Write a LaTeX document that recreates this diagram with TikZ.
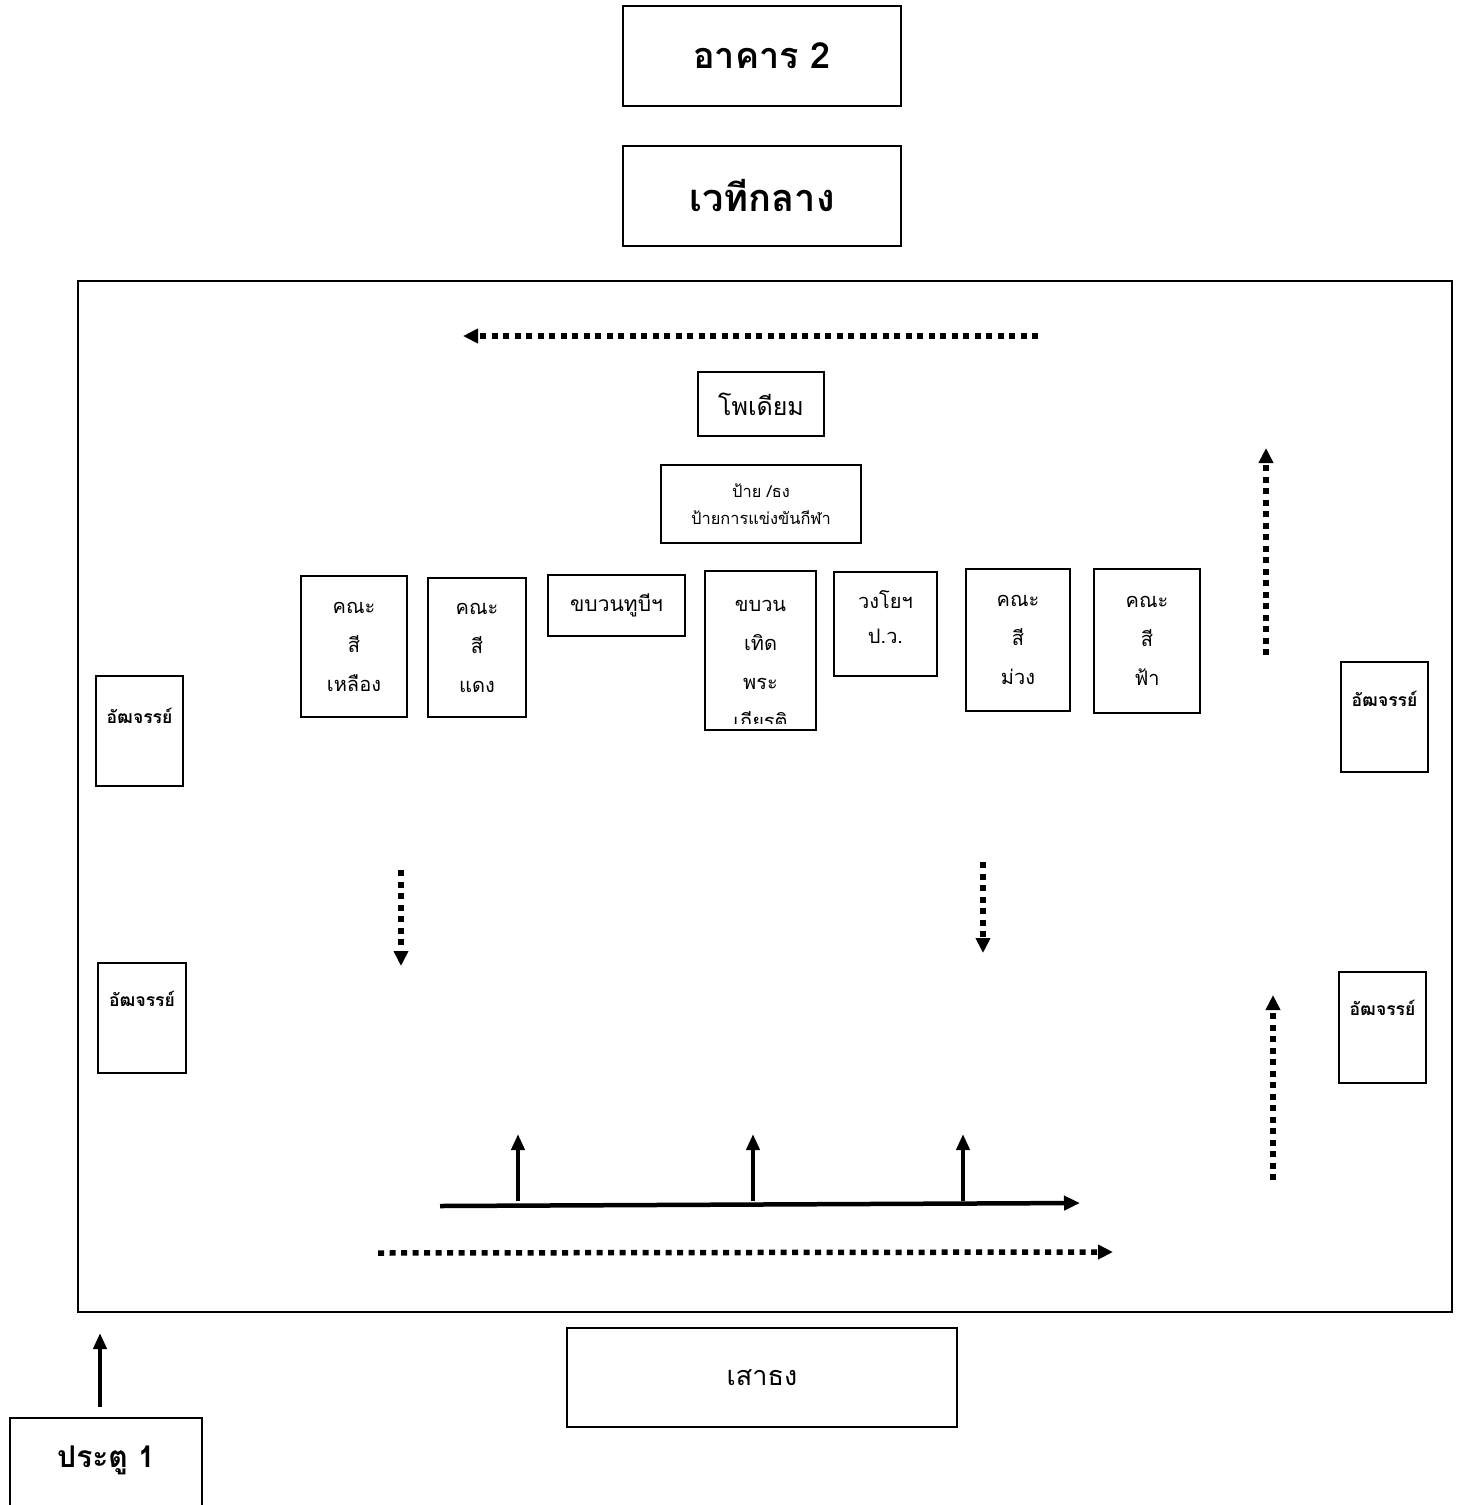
\documentclass[tikz,border=0pt]{standalone}
\usepackage{fontspec}
\setmainfont[Script=Thai]{Loma}
\usetikzlibrary{arrows.meta}
\begin{document}
\begin{tikzpicture}[
		x=1pt, y=-1pt,
		box/.style={draw, line width=1.6pt, inner sep=0pt, align=center},
		teamtxt/.style={font=\fontsize{20}{39}\selectfont, align=center},
		standtxt/.style={font=\fontsize{17.5}{20}\selectfont\bfseries},
		dotline/.style={line width=5.5pt, dash pattern=on 6pt off 5.5pt,
				-{Triangle[length=15pt,width=14pt]}},
		solidline/.style={line width=4.5pt, -{Triangle[length=16pt,width=14pt]}}
	]
	\useasboundingbox (0,0) rectangle (1461,1505);

	\node[box, minimum width=278pt, minimum height=100pt, font=\fontsize{36}{40}\selectfont\bfseries] (bldg) at (762,56) {อาคาร 2};
	\node[box, minimum width=278pt, minimum height=100pt, font=\fontsize{38}{42}\selectfont\bfseries] (stage) at (762,196) {เวทีกลาง};
	\draw[line width=1.6pt] (78,281) rectangle (1452,1312);

	\node[box, minimum width=126pt, minimum height=64pt, font=\fontsize{25}{28}\selectfont] (podium) at (761,404) {โพเดียม};
	\node[box, minimum width=200pt, minimum height=78pt, font=\fontsize{16.4}{27}\selectfont] (sign) at (761,504) {ป้าย /ธง\\ป้ายการแข่งขันกีฬา};

	\node[box, minimum width=106pt, minimum height=141pt, teamtxt] (yellow) at (354,646.5) {คณะ\\สี\\เหลือง};
	\node[box, minimum width=98pt, minimum height=139pt, teamtxt] (red) at (477,647.5) {คณะ\\สี\\แดง};
	\node[box, minimum width=137pt, minimum height=61pt, font=\fontsize{21}{24}\selectfont] (tobe) at (616.5,605.5) {ขบวนทูบีฯ};
	\node[box, minimum width=111pt, minimum height=159pt] (parade) at (760.5,650.5) {};
	\begin{scope}
		\clip ([yshift=7pt]parade.south west) rectangle (parade.north east);
		\node[teamtxt, anchor=north] (paradetxt) at ([yshift=-27pt]parade.north) {ขบวน\\เทิด\\พระ\\เกียรติ};
	\end{scope}
	\node[box, minimum width=103pt, minimum height=104pt] (band) at (885.5,624) {};
	\node[font=\fontsize{20}{35}\selectfont, align=center, anchor=north] (bandtxt) at ([yshift=-16pt]band.north) {วงโยฯ\\ป.ว.};
	\node[box, minimum width=104pt, minimum height=142pt, teamtxt] (purple) at (1018,640) {คณะ\\สี\\ม่วง};
	\node[box, minimum width=106pt, minimum height=144pt, teamtxt] (blue) at (1147,641) {คณะ\\สี\\ฟ้า};

	\node[box, minimum width=87pt, minimum height=110pt] (standL1) at (139.5,731) {};
	\node[standtxt] (standL1txt) at (139.5,716) {อัฒจรรย์};
	\node[box, minimum width=88pt, minimum height=110pt] (standL2) at (142,1018) {};
	\node[standtxt] (standL2txt) at (142,999) {อัฒจรรย์};
	\node[box, minimum width=87pt, minimum height=110pt] (standR1) at (1384.5,717) {};
	\node[standtxt] (standR1txt) at (1384.5,699) {อัฒจรรย์};
	\node[box, minimum width=87pt, minimum height=111pt] (standR2) at (1382.5,1027.5) {};
	\node[standtxt] (standR2txt) at (1382.5,1008) {อัฒจรรย์};

	\node[box, minimum width=390pt, minimum height=99pt, font=\fontsize{27}{32}\selectfont] (pole) at (762,1377.5) {เสาธง};
	\node[box, minimum width=192pt, minimum height=100pt] (gate) at (106,1468) {};
	\node[font=\fontsize{30}{34}\selectfont\bfseries] (gatetxt) at (106,1460) {ประตู 1};

	\coordinate (topA) at (1038,336);
	\coordinate (topB) at (463,336);
	\coordinate (rightA) at (1266,655);
	\coordinate (rightB) at (1266,448);
	\coordinate (rightC) at (1273,1180);
	\coordinate (rightD) at (1273,995);
	\coordinate (leftA) at (401,870);
	\coordinate (leftB) at (401,966);
	\coordinate (midA) at (983,862);
	\coordinate (midB) at (983,953);
	\coordinate (lowA) at (378,1253);
	\coordinate (lowB) at (1113,1252);
	\coordinate (mainA) at (440,1206);
	\coordinate (mainB) at (1080,1203);
	\coordinate (gateA) at (100,1407);
	\coordinate (gateB) at (100,1333);

	\draw[dotline] (topA) -- (topB);
	\draw[dotline] (rightA) -- (rightB);
	\draw[dotline] (rightC) -- (rightD);
	\draw[dotline] (leftA) -- (leftB);
	\draw[dotline] (midA) -- (midB);
	\draw[dotline] (lowA) -- (lowB);
	\draw[solidline] (mainA) -- (mainB);
	\foreach \px/\nm in {518/a, 753/b, 963/c} {
		\coordinate (up\nm) at (\px,1201);
		\coordinate (tip\nm) at (\px,1134);
		\draw[line width=4pt, -{Triangle[length=16pt,width=13pt]}] (up\nm) -- (tip\nm);
	}
	\draw[line width=4pt, -{Triangle[length=16pt,width=13pt]}] (gateA) -- (gateB);
\end{tikzpicture}
\end{document}
